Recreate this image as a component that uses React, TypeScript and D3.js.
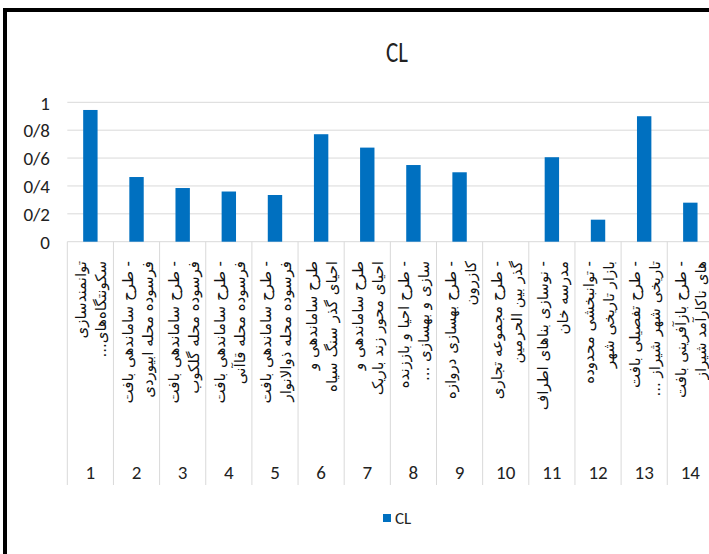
import React from "react";
import * as d3 from "d3";

const categories = ["1", "2", "3", "4", "5", "6", "7", "8", "9", "10", "11", "12", "13", "14"];
const values = [0.945, 0.464, 0.385, 0.36, 0.335, 0.771, 0.675, 0.55, 0.498, 0, 0.606, 0.158, 0.9, 0.28];
const labelLine1 = [
  "توانمندسازی",
  "- طرح ساماندهی بافت",
  "- طرح ساماندهی بافت",
  "- طرح ساماندهی بافت",
  "- طرح ساماندهی بافت",
  "طرح ساماندهی و",
  "طرح ساماندهی و",
  "- طرح احیا و باززنده",
  "- طرح بهسازی دروازه",
  "- طرح مجموعه تجاری",
  "- نوسازی بناهای اطراف",
  "- توانبخشی محدوده",
  "- طرح تفصیلی بافت",
  "- طرح بازآفرینی بافت",
];
const labelLine2 = [
  "سکونتگاه‌های...",
  "فرسوده محله ابیوردی",
  "فرسوده محله گلکوب",
  "فرسوده محله قاآنی",
  "فرسوده محله ذوالانوار",
  "احیای گذر سنگ سیاه",
  "احیای محور زند باریک",
  "سازی و بهسازی ...",
  "کازرون",
  "گذر بین الحرمین",
  "مدرسه خان",
  "بازار تاریخی شهر",
  "تاریخی شهر شیراز ...",
  "های ناکارآمد شیراز",
];
const yTicks = [0, 0.2, 0.4, 0.6, 0.8, 1];
const yTickLabels = ["0", "0/2", "0/4", "0/6", "0/8", "1"];
const seriesName = "CL";
const title = "CL";

const W = 709;
const H = 554;
const latin = "Carlito, Calibri, Lato, 'Liberation Sans', sans-serif";
const persian = "'DejaVu Sans', 'Noto Sans', sans-serif";
const barColor = "#0070C0";
const gridColor = "#d9d9d9";

export default function App() {
  const left = 67.3;
  const step = 46.15;
  const x = d3.scaleBand<string>().domain(categories).range([left, left + step * categories.length]).padding(0);
  const y = d3.scaleLinear().domain([0, 1]).range([241.7, 102.3]);
  const bw = x.bandwidth();
  const barW = bw * 0.312;
  const axisBottom = 485;
  const labelTop = 261;
  const pfs = 15;

  return (
    <svg
      width={W}
      height={H}
      style={{ position: "absolute", left: 0, top: 0, background: "#fff" }}
    >
      <rect x={0} y={0} width={W} height={H} fill="#fff" />
      {/* outer frame */}
      <rect x={5} y={10} width={W + 20} height={H + 20} fill="none" stroke="#000" strokeWidth={4} />

      <g transform="translate(397,62) scale(0.92,1.12)">
        <text x={0} y={0} textAnchor="middle" fontFamily={latin} fontSize={25} fill="#222">
          {title}
        </text>
      </g>

      {/* gridlines */}
      {yTicks.map((t) => (
        <line key={"g" + t} x1={left} x2={W} y1={y(t)} y2={y(t)} stroke={gridColor} strokeWidth={1} />
      ))}
      {yTicks.map((t, i) => (
        <text
          key={"yl" + t}
          x={50}
          y={y(t)}
          dy="0.38em"
          textAnchor="end"
          fontFamily={latin}
          fontSize={19}
          fill="#222"
        >
          {yTickLabels[i]}
        </text>
      ))}

      {/* category separators */}
      {categories.map((c) => (
        <line key={"s" + c} x1={x(c)!} x2={x(c)!} y1={y(0)} y2={axisBottom} stroke={gridColor} strokeWidth={1} />
      ))}
      <line x1={left + step * categories.length} x2={left + step * categories.length} y1={y(0)} y2={axisBottom} stroke={gridColor} />

      {/* bars */}
      {categories.map((c, i) =>
        values[i] > 0 ? (
          <rect
            key={"b" + c}
            x={x(c)! + (bw - barW) / 2}
            y={y(values[i])}
            width={barW}
            height={y(0) - y(values[i])}
            fill={barColor}
          />
        ) : null
      )}

      {/* rotated persian labels */}
      {categories.map((c, i) => {
        const cx = x(c)! + bw / 2;
        return (
          <g key={"lab" + c} transform={`translate(${cx},${labelTop}) rotate(-90)`}>
            <text
              x={0}
              y={-4}
              fontFamily={persian}
              fontSize={pfs}
              fill="#111"
              style={{ direction: "rtl" }}
              textAnchor="start"
            >
              {labelLine1[i]}
            </text>
            <text
              x={0}
              y={16}
              fontFamily={persian}
              fontSize={pfs}
              fill="#111"
              style={{ direction: "rtl" }}
              textAnchor="start"
            >
              {labelLine2[i]}
            </text>
          </g>
        );
      })}

      {/* category numbers */}
      {categories.map((c) => (
        <text
          key={"n" + c}
          x={x(c)! + bw / 2}
          y={479}
          textAnchor="middle"
          fontFamily={latin}
          fontSize={19}
          fill="#222"
        >
          {c}
        </text>
      ))}

      {/* legend */}
      <rect x={383} y={514} width={8} height={8} fill={barColor} />
      <text x={395} y={518} dy="0.36em" fontFamily={latin} fontSize={17} fill="#222">
        {seriesName}
      </text>
    </svg>
  );
}
